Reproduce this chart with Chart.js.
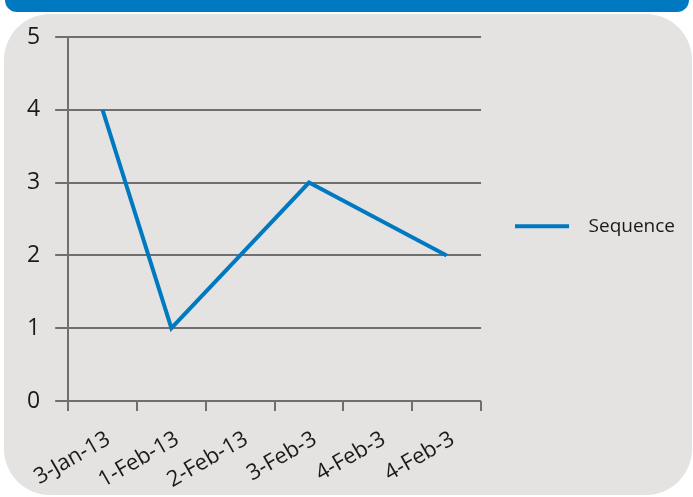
<!DOCTYPE html>
<html>
<head>
<meta charset="utf-8">
<script src="https://cdn.jsdelivr.net/npm/chart.js@4.4.1/dist/chart.umd.min.js"></script>
<style>
  html, body { margin: 0; padding: 0; background: #ffffff; }
  #wrap { position: relative; width: 693px; height: 497px; overflow: hidden; }
  #bar { position: absolute; left: 5px; top: -20px; width: 684px; height: 32px; background: #0079c1; border-radius: 12px; }
  #panel { position: absolute; left: 4px; top: 14px; width: 688px; height: 481px; background: #e4e3e2; border-radius: 46px; }
  #chart { position: absolute; left: 0; top: 0; }
</style>
</head>
<body>
<div id="wrap">
  <div id="bar"></div>
  <div id="panel"></div>
  <canvas id="chart" width="693" height="497"></canvas>
</div>
<script>
// categories and values
const categorias = ['3-Jan-13', '1-Feb-13', '2-Feb-13', '3-Feb-3', '4-Feb-3', '4-Feb-3'];
const sequencia = [4, 1, 2, 3, 2.5, 2];
const ticksY = [0, 1, 2, 3, 4, 5];

const azul = '#0079c1';
const cinza = '#6f6f6f';
const fonte = "'Open Sans', 'Noto Sans', sans-serif";

// legend symbol: a short line with some empty room after it
const simbolo = document.createElement('canvas');
simbolo.width = 64;
simbolo.height = 6;
const sctx = simbolo.getContext('2d');
sctx.fillStyle = azul;
sctx.fillRect(0, 1, 54, 4);

const grafico = document.getElementById('chart');
new Chart(grafico, {
  type: 'line',
  data: {
    labels: categorias,
    datasets: [{
      label: 'Sequence',
      data: sequencia,
      borderColor: azul,
      backgroundColor: azul,
      borderWidth: 4,
      pointRadius: 0,
      tension: 0,
      borderCapStyle: 'butt'
    }]
  },
  options: {
    responsive: false,
    animation: false,
    layout: { padding: { left: 12, top: 37, right: 8, bottom: 0 } },
    plugins: {
      tooltip: { enabled: false },
      legend: {
        position: 'right',
        fullSize: false,
        maxWidth: 230,
        // empty title only pushes the item down a little
        title: { display: true, text: ' ', padding: 0, font: { size: 12 } },
        labels: {
          usePointStyle: true,
          pointStyle: simbolo,
          pointStyleWidth: 64,
          boxHeight: 6,
          padding: 34,
          color: '#1a1a1a',
          font: { family: fonte, size: 19 }
        }
      }
    },
    scales: {
      x: {
        offset: true,
        afterFit: (eixo) => { eixo.paddingLeft = 0; eixo.paddingRight = 0; eixo.height = 96; },
        grid: { display: true, drawOnChartArea: false, drawTicks: true, tickLength: 10, color: cinza, lineWidth: 2, offset: true },
        border: { display: false },
        ticks: {
          minRotation: 30, maxRotation: 30, padding: 15, labelOffset: 6,
          color: '#1a1a1a',
          font: { family: fonte, size: 22 }
        }
      },
      y: {
        min: 0, max: 5,
        afterBuildTicks: (eixo) => { eixo.ticks = ticksY.map(v => ({ value: v })); },
        grid: { color: cinza, lineWidth: 2, tickLength: 13 },
        border: { display: true, color: cinza, width: 2 },
        ticks: {
          padding: 15,
          color: '#1a1a1a',
          font: { family: fonte, size: 23 }
        }
      }
    }
  }
});
</script>
</body>
</html>
